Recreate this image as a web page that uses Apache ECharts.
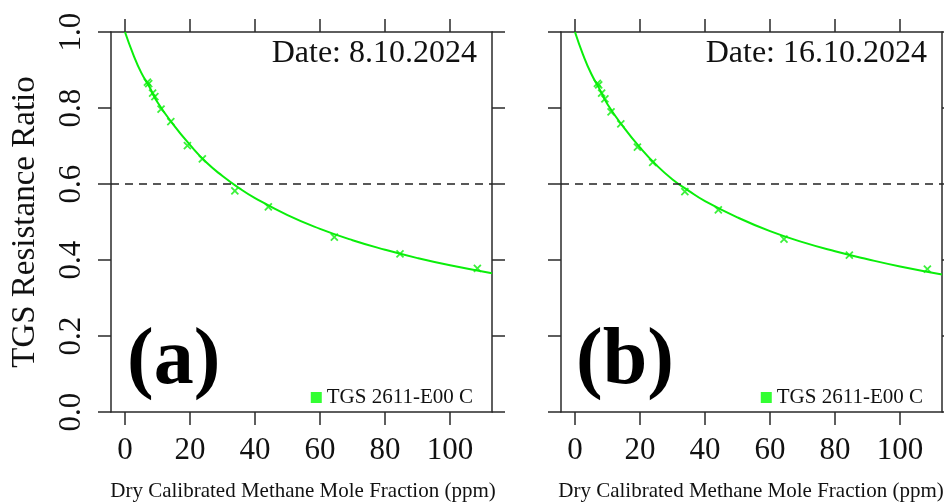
<!DOCTYPE html>
<html>
<head>
<meta charset="utf-8">
<script src="https://cdn.jsdelivr.net/npm/echarts@6/dist/echarts.min.js"></script>
<style>
html,body{margin:0;padding:0;background:#fff;}
#chart{width:944px;height:502px;}
</style>
</head>
<body>
<div id="chart"></div>
<script>
// ---- data ----
var xTicks = [0, 20, 40, 60, 80, 100];
var yTicks = [0, 0.2, 0.4, 0.6, 0.8, 1.0];
var threshold = 0.6;
var seriesName = 'TGS 2611-E00 C';
var dateA = 'Date: 8.10.2024';
var dateB = 'Date: 16.10.2024';

var ptsAx = [6.9, 7.3, 8.5, 9.2, 11.1, 14.1, 19.2, 23.8, 33.8, 44.1, 64.4, 84.6, 108.4];
var ptsAy = [0.868, 0.864, 0.839, 0.830, 0.797, 0.764, 0.701, 0.666, 0.582, 0.540, 0.460, 0.416, 0.378];
var ptsBx = [6.9, 7.3, 8.2, 9.2, 11.1, 14.1, 19.2, 23.9, 33.8, 44.1, 64.3, 84.4, 108.4];
var ptsBy = [0.865, 0.861, 0.839, 0.824, 0.790, 0.758, 0.697, 0.657, 0.580, 0.532, 0.455, 0.413, 0.376];

var fitX  = [0, 2.5, 5, 7.5, 10, 15, 20, 25, 30, 35, 40, 50, 60, 70, 80, 90, 100, 112.9];
var fitAy = [1.0, 0.942, 0.893, 0.856, 0.815, 0.755, 0.703, 0.657, 0.621, 0.590, 0.563, 0.518, 0.482, 0.452, 0.427, 0.405, 0.386, 0.365];
var fitBy = [1.0, 0.940, 0.890, 0.851, 0.810, 0.749, 0.696, 0.650, 0.612, 0.582, 0.555, 0.512, 0.476, 0.447, 0.423, 0.402, 0.383, 0.362];

// ---- styling ----
var FONT = 'Liberation Serif';
var GREEN = '#0aee0a';
var AXC = '#2a2a2a';
var X_MIN = -4.3, X_MAX = 112.9;

function zip(a, b) { return a.map(function (v, i) { return [v, b[i]]; }); }

var grids = [
  { left: 111, top: 32, width: 381, height: 380 },
  { left: 561, top: 32, width: 381, height: 380 }
];

function axLine() { return { show: true, onZero: false, lineStyle: { color: AXC, width: 1.5 } }; }
function axTick(vals) { return { show: true, length: 13, customValues: vals, lineStyle: { color: AXC, width: 1.5 } }; }

var xAxes = [], yAxes = [];
[0, 1].forEach(function (g) {
  xAxes.push({
    type: 'value', gridIndex: g, position: 'bottom', min: X_MIN, max: X_MAX,
    axisLine: axLine(), axisTick: axTick(xTicks), splitLine: { show: false },
    axisLabel: { show: true, customValues: xTicks, margin: 23, fontFamily: FONT, fontSize: 31, color: '#111' }
  });
  xAxes.push({
    type: 'value', gridIndex: g, position: 'top', min: X_MIN, max: X_MAX,
    axisLine: axLine(), axisTick: axTick(xTicks), splitLine: { show: false },
    axisLabel: { show: false }
  });
  yAxes.push({
    type: 'value', gridIndex: g, position: 'left', min: 0, max: 1, interval: 0.2,
    axisLine: axLine(), axisTick: axTick(yTicks), splitLine: { show: false },
    axisLabel: { show: g === 0, customValues: yTicks, rotate: 90, margin: 24, fontFamily: FONT, fontSize: 31, color: '#111',
      formatter: function (v) { return v.toFixed(1); } }
  });
  yAxes.push({
    type: 'value', gridIndex: g, position: 'right', min: 0, max: 1, interval: 0.2,
    axisLine: axLine(), axisTick: axTick(yTicks), splitLine: { show: false },
    axisLabel: { show: false }
  });
});

var crossPath = 'path://M0,0L10,10M10,0L0,10';

function panelSeries(g, px, py, fy) {
  return [
    {
      name: 'fit' + g, type: 'line', xAxisIndex: g * 2, yAxisIndex: g * 2,
      data: zip(fitX, fy), smooth: 0.5, showSymbol: false, silent: true,
      lineStyle: { color: GREEN, width: 2 },
      markLine: {
        silent: true, symbol: 'none', label: { show: false },
        lineStyle: { color: '#222', type: [8, 6], width: 1.7 },
        data: [{ yAxis: threshold }]
      },
      z: 3
    },
    {
      name: seriesName, type: 'scatter', xAxisIndex: g * 2, yAxisIndex: g * 2,
      data: zip(px, py), symbol: crossPath, symbolSize: 7,
      itemStyle: { color: 'transparent', borderColor: GREEN, borderWidth: 1.8 },
      z: 4
    }
  ];
}

var series = [].concat(panelSeries(0, ptsAx, ptsAy, fitAy), panelSeries(1, ptsBx, ptsBy, fitBy));

function legendAt(right) {
  return {
    right: right, top: 382, orient: 'horizontal', selectedMode: false,
    itemWidth: 11, itemHeight: 11, itemGap: 4,
    textStyle: { fontFamily: FONT, fontSize: 21, color: '#111' },
    data: [{ name: seriesName, icon: 'rect', itemStyle: { color: '#00ff00', borderWidth: 0 } }]
  };
}

var txt = function (x, y, text, size, extra) {
  var s = { text: text, fontFamily: FONT, fontSize: size, fill: '#111' };
  for (var k in extra) s[k] = extra[k];
  return { type: 'text', x: x, y: y, style: s, z: 10 };
};

var graphics = [
  txt(477, 54, dateA, 32, { align: 'right', verticalAlign: 'middle' }),
  txt(927, 54, dateB, 32, { align: 'right', verticalAlign: 'middle' }),
  txt(127, 362, '(a)', 80, { fontWeight: 'bold', verticalAlign: 'middle', fill: '#000' }),
  txt(576, 362, '(b)', 80, { fontWeight: 'bold', verticalAlign: 'middle', fill: '#000' }),
  txt(303, 491, 'Dry Calibrated Methane Mole Fraction (ppm)', 21, { align: 'center', verticalAlign: 'middle' }),
  txt(751, 491, 'Dry Calibrated Methane Mole Fraction (ppm)', 21, { align: 'center', verticalAlign: 'middle' }),
  { type: 'text', x: 25, y: 222, rotation: Math.PI / 2, z: 10,
    style: { text: 'TGS Resistance Ratio', fontFamily: FONT, fontSize: 33, fill: '#111', align: 'center', verticalAlign: 'middle' } }
];

var chart = echarts.init(document.getElementById('chart'), null, { renderer: 'canvas' });
chart.setOption({
  animation: false,
  backgroundColor: '#ffffff',
  grid: grids,
  xAxis: xAxes,
  yAxis: yAxes,
  legend: [legendAt(466), legendAt(16)],
  graphic: graphics,
  series: series
});
</script>
</body>
</html>
